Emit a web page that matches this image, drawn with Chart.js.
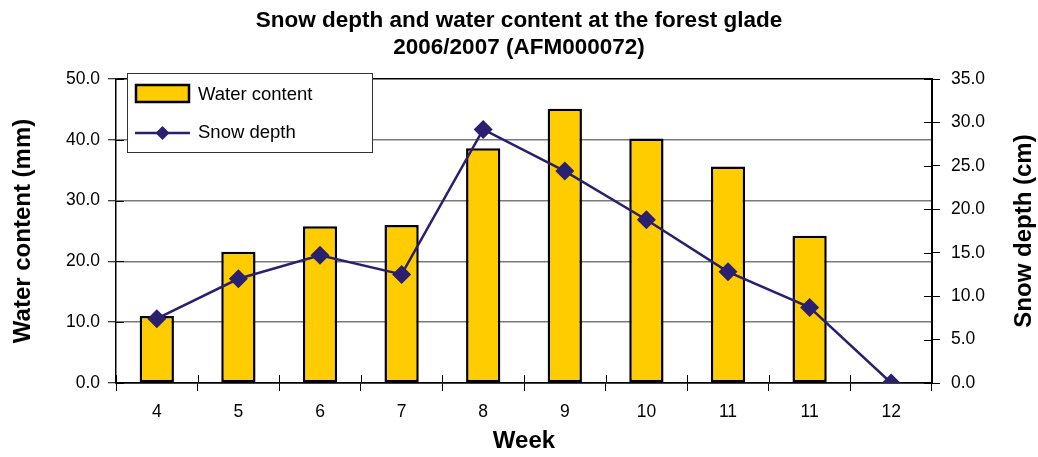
<!DOCTYPE html>
<html>
<head>
<meta charset="utf-8">
<script src="https://cdn.jsdelivr.net/npm/chart.js@4.4.0/dist/chart.umd.min.js"></script>
<style>
html,body{margin:0;padding:0;background:#fff;}
#wrap{width:1038px;height:457px;}
</style>
</head>
<body>
<div id="wrap"><canvas id="c" width="1038" height="457"></canvas></div>
<script>
const weeks = ['4','5','6','7','8','9','10','11','11','12'];
const waterContent = [11.0, 21.6, 25.8, 26.0, 38.6, 45.1, 40.2, 35.6, 24.2, null];
const snowDepth = [7.4, 12.0, 14.7, 12.5, 29.2, 24.4, 18.8, 12.8, 8.7, 0.0];
const titleLines = ['Snow depth and water content at the forest glade', '2006/2007 (AFM000072)'];
const seriesNames = ['Water content', 'Snow depth'];
const axisTitles = {left: 'Water content (mm)', right: 'Snow depth (cm)', bottom: 'Week'};

const FONT = "'Liberation Sans', Arial, Helvetica, sans-serif";
const BAR_FILL = '#FFCC00';
const LINE_COL = '#2B1F70';

// draws inner halves of tick marks so they cross the axes
const crossTicks = {
  id: 'crossTicks',
  afterDraw(chart) {
    const ctx = chart.ctx;
    const a = chart.chartArea;
    const x = chart.scales.x, y = chart.scales.y, y2 = chart.scales.y2;
    ctx.save();
    ctx.strokeStyle = '#000';
    ctx.lineWidth = 1;
    ctx.beginPath();
    for (let i = 0; i <= weeks.length; i++) {
      const px = Math.round(x.getPixelForValue(i - 0.5)) + 0.5;
      ctx.moveTo(px, a.bottom);
      ctx.lineTo(px, a.bottom - 8);
    }
    y2.ticks.forEach(t => {
      const py = Math.round(y2.getPixelForValue(t.value)) + 0.5;
      ctx.moveTo(a.right, py);
      ctx.lineTo(a.right - 8, py);
    });
    y.ticks.forEach(t => {
      const py = Math.round(y.getPixelForValue(t.value)) + 0.5;
      ctx.moveTo(a.left, py);
      ctx.lineTo(a.left + 8, py);
    });
    ctx.stroke();
    // right axis title, reading bottom to top as in the original
    ctx.save();
    ctx.translate(1024, (a.top + a.bottom) / 2);
    ctx.rotate(-Math.PI / 2);
    ctx.fillStyle = '#000';
    ctx.font = 'bold 24px ' + FONT;
    ctx.textAlign = 'center';
    ctx.textBaseline = 'middle';
    ctx.fillText(axisTitles.right, 0, 0);
    ctx.restore();
    ctx.restore();
  }
};

// boxed legend inside the plot, like the original
const boxLegend = {
  id: 'boxLegend',
  afterDraw(chart) {
    const ctx = chart.ctx;
    const a = chart.chartArea;
    const bx = a.left + 11, by = a.top - 6, bw = 245, bh = 79;
    ctx.save();
    ctx.fillStyle = '#fff';
    ctx.fillRect(bx, by, bw, bh);
    ctx.strokeStyle = '#333';
    ctx.lineWidth = 1;
    ctx.strokeRect(bx + 0.5, by + 0.5, bw, bh);
    const ds0 = chart.data.datasets[0], ds1 = chart.data.datasets[1];
    ctx.fillStyle = ds0.backgroundColor;
    ctx.fillRect(bx + 9, by + 12, 53, 17);
    ctx.strokeStyle = ds0.borderColor;
    ctx.lineWidth = 2.5;
    ctx.strokeRect(bx + 9, by + 12, 53, 17);
    const ly = by + 60;
    ctx.strokeStyle = ds1.borderColor;
    ctx.lineWidth = 2.5;
    ctx.beginPath();
    ctx.moveTo(bx + 8, ly);
    ctx.lineTo(bx + 63, ly);
    ctx.stroke();
    ctx.fillStyle = ds1.pointBackgroundColor;
    const cx = bx + 35.5, r = 7;
    ctx.beginPath();
    ctx.moveTo(cx, ly - r); ctx.lineTo(cx + r, ly); ctx.lineTo(cx, ly + r); ctx.lineTo(cx - r, ly);
    ctx.closePath();
    ctx.fill();
    ctx.fillStyle = '#000';
    ctx.font = '18.5px ' + FONT;
    ctx.textBaseline = 'middle';
    ctx.textAlign = 'left';
    ctx.fillText(ds0.label, bx + 71, by + 22);
    ctx.fillText(ds1.label, bx + 71, ly);
    ctx.restore();
  }
};

new Chart(document.getElementById('c'), {
  type: 'bar',
  data: {
    labels: weeks,
    datasets: [
      {
        type: 'bar',
        label: seriesNames[0],
        data: waterContent,
        yAxisID: 'y',
        backgroundColor: BAR_FILL,
        borderColor: '#000',
        borderWidth: 2.5,
        borderSkipped: false,
        categoryPercentage: 1.0,
        barPercentage: 0.42,
        order: 2
      },
      {
        type: 'line',
        label: seriesNames[1],
        data: snowDepth,
        yAxisID: 'y2',
        borderColor: LINE_COL,
        backgroundColor: LINE_COL,
        borderWidth: 2.5,
        pointStyle: 'rectRot',
        pointRadius: 9.5,
        pointBackgroundColor: LINE_COL,
        pointBorderColor: LINE_COL,
        pointBorderWidth: 0,
        tension: 0,
        order: 1
      }
    ]
  },
  options: {
    responsive: false,
    animation: false,
    devicePixelRatio: 1,
    layout: {padding: 0},
    plugins: {
      legend: {display: false},
      tooltip: {enabled: false},
      title: {
        display: true,
        text: titleLines,
        color: '#000',
        font: {family: FONT, size: 22.5, weight: 'bold', lineHeight: 1.2},
        padding: {top: 7, bottom: 18}
      }
    },
    scales: {
      x: {
        type: 'category',
        offset: true,
        grid: {offset: true, drawOnChartArea: false, drawTicks: true, tickLength: 8, tickColor: '#000', color: '#000'},
        border: {display: true, color: '#000', width: 1.5},
        ticks: {color: '#000', font: {family: FONT, size: 17.5}, padding: 11, maxRotation: 0, autoSkip: false},
        title: {display: true, text: axisTitles.bottom, color: '#000', font: {family: FONT, size: 24, weight: 'bold'}, padding: {top: 0, bottom: 1}},
        afterFit(s) { s.height = 74; }
      },
      y: {
        position: 'left',
        min: 0, max: 50,
        ticks: {stepSize: 10, color: '#000', font: {family: FONT, size: 17.5}, padding: 8, callback: v => Number(v).toFixed(1)},
        grid: {
          color: c => (c.tick && (c.tick.value === 0 || c.tick.value === 50)) ? '#000' : '#7a7a7a',
          lineWidth: 1.5, tickLength: 8, tickColor: '#000', tickWidth: 1
        },
        border: {display: true, color: '#000', width: 1.5},
        title: {display: true, text: axisTitles.left, color: '#000', font: {family: FONT, size: 24, weight: 'bold'}, padding: {top: 9, bottom: 0}},
        afterFit(s) { s.width = 116; }
      },
      y2: {
        position: 'right',
        min: 0, max: 35,
        ticks: {stepSize: 5, color: '#000', font: {family: FONT, size: 17.5}, padding: 11, callback: v => Number(v).toFixed(1)},
        grid: {drawOnChartArea: false, tickLength: 8, tickColor: '#000', color: '#000'},
        border: {display: true, color: '#000', width: 2},
        title: {display: false},
        afterFit(s) { s.width = 106; }
      }
    }
  },
  plugins: [crossTicks, boxLegend]
});
</script>
</body>
</html>
